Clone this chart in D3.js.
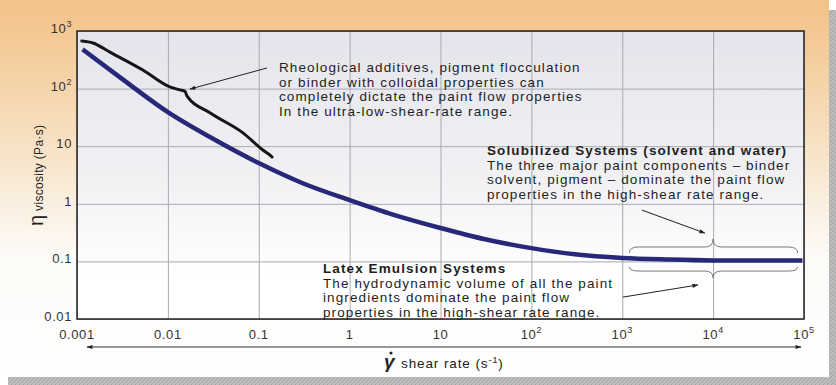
<!DOCTYPE html>
<html>
<head>
<meta charset="utf-8">
<script src="https://cdn.jsdelivr.net/npm/d3@7"></script>
<style>
  body { margin: 0; background: #fff; }
  svg { display: block; }
  text { font-family: "Liberation Sans", Arial, sans-serif; }
</style>
</head>
<body>
<div id="chart"></div>
<script>
// Axis ticks
const xTicks = [1e-3, 1e-2, 1e-1, 1, 10, 1e2, 1e3, 1e4, 1e5];
const xTickBase = ["0.001", "0.01", "0.1", "1", "10", "10", "10", "10", "10"];
const xTickExp = ["", "", "", "", "", "2", "3", "4", "5"];
const yTicks = [0.01, 0.1, 1, 10, 100, 1000];
const yTickBase = ["0.01", "0.1", "1", "10", "10", "10"];
const yTickExp = ["", "", "", "", "2", "3"];

// Main flow curve (blue)
const baseRate = [0.00115, 0.003, 0.01, 0.03, 0.1, 0.3, 1, 3, 10, 30, 100, 300, 1000, 3000, 1e4, 3e4, 9.6e4];
const baseVisc = [480, 155, 39, 14, 5.1, 2.3, 1.16, 0.65, 0.38, 0.245, 0.17, 0.133, 0.115, 0.108, 0.104, 0.104, 0.104];

// Rheological additive curve (black)
const addRate = [0.00113, 0.0015, 0.0023, 0.0053, 0.0105, 0.0136, 0.0154, 0.0162, 0.029, 0.067, 0.111, 0.133, 0.14];
const addVisc = [670, 620, 430, 210, 107, 95, 90, 75, 38, 17, 8.6, 7.0, 6.5];

// Annotation texts
const noteAdditives = [
  "Rheological additives, pigment flocculation",
  "or binder with colloidal properties can",
  "completely dictate the paint flow properties",
  "In the ultra-low-shear-rate range."
];
const noteSolubTitle = "Solubilized Systems (solvent and water)";
const noteSolub = [
  "The three major paint components \u2013 binder",
  "solvent, pigment \u2013 dominate the paint flow",
  "properties in the high-shear rate range."
];
const noteLatexTitle = "Latex Emulsion Systems";
const noteLatex = [
  "The hydrodynamic volume of all the paint",
  "ingredients dominate the paint flow",
  "properties in the high-shear rate range."
];

// Pointer arrows [rate0, visc0, rate1, visc1]
const arrowAdditives = [0.123, 228, 0.0175, 98];
const arrowSolub = [1640, 0.78, 8100, 0.31];
const arrowLatex = [1015, 0.024, 6800, 0.039];

// Braces: rate start, tip, end; visc of end, arm, tip
const braceRate = [1200, 1e4, 85000];
const braceUpper = [0.14, 0.178, 0.245];
const braceLower = [0.08, 0.068, 0.0515];

const width = 836, height = 385;
const m = { left: 77, right: 804, top: 31, bottom: 319 };

const svg = d3.select("#chart").append("svg")
  .attr("width", width)
  .attr("height", height);

const defs = svg.append("defs");

const cardGrad = defs.append("linearGradient")
  .attr("id", "cardGrad").attr("x1", 0).attr("y1", 0).attr("x2", 0).attr("y2", 1);
[[0, "#f2c38a"], [0.1, "#f4c994"], [0.4, "#f7e3c7"], [0.68, "#fdfbf8"], [1, "#ffffff"]]
  .forEach(s => cardGrad.append("stop").attr("offset", s[0]).attr("stop-color", s[1]));

const plotGrad = defs.append("linearGradient")
  .attr("id", "plotGrad").attr("x1", 0).attr("y1", 0).attr("x2", 0).attr("y2", 1);
[[0, "#e4e5ec"], [0.5, "#f1f1f4"], [0.85, "#ffffff"], [1, "#ffffff"]]
  .forEach(s => plotGrad.append("stop").attr("offset", s[0]).attr("stop-color", s[1]));

const hatch = defs.append("pattern")
  .attr("id", "hatch").attr("width", 4).attr("height", 4)
  .attr("patternUnits", "userSpaceOnUse");
hatch.append("rect").attr("width", 4).attr("height", 4).attr("fill", "#bdbdbd");
hatch.append("path").attr("d", "M0,4 L4,0").attr("stroke", "#a2a2a2").attr("stroke-width", 1);

defs.append("marker")
  .attr("id", "head").attr("viewBox", "0 0 10 10")
  .attr("refX", 9).attr("refY", 5)
  .attr("markerWidth", 7).attr("markerHeight", 6)
  .attr("orient", "auto-start-reverse")
  .append("path").attr("d", "M0,1.5 L10,5 L0,8.5 Z").attr("fill", "#222");

// shadow + card
svg.append("rect").attr("x", 8).attr("y", 10).attr("width", width - 8).attr("height", height - 10)
  .attr("fill", "url(#hatch)");
svg.append("rect").attr("x", 0).attr("y", 0).attr("width", 829).attr("height", 377)
  .attr("fill", "url(#cardGrad)");

const x = d3.scaleLog().domain([1e-3, 1e5]).range([m.left, m.right]);
const y = d3.scaleLog().domain([0.01, 1000]).range([m.bottom, m.top]);

svg.append("rect")
  .attr("x", m.left).attr("y", m.top)
  .attr("width", m.right - m.left).attr("height", m.bottom - m.top)
  .attr("fill", "url(#plotGrad)");

// gridlines
svg.append("g")
  .attr("transform", `translate(0,${m.bottom})`)
  .call(d3.axisBottom(x).tickValues(xTicks).tickSize(-(m.bottom - m.top)).tickFormat(""))
  .call(g => g.select(".domain").remove())
  .call(g => g.selectAll("line").attr("stroke", "#a9a9ae").attr("stroke-width", 1));

svg.append("g")
  .attr("transform", `translate(${m.left},0)`)
  .call(d3.axisLeft(y).tickValues(yTicks).tickSize(-(m.right - m.left)).tickFormat(""))
  .call(g => g.select(".domain").remove())
  .call(g => g.selectAll("line").attr("stroke", "#a9a9ae").attr("stroke-width", 1));

// tick labels
const xLab = svg.append("g").selectAll("text")
  .data(xTicks).join("text")
  .attr("x", d => x(d))
  .attr("y", 339)
  .attr("text-anchor", "middle")
  .attr("font-size", 13)
  .attr("fill", "#333")
  .attr("letter-spacing", 0.6);
xLab.append("tspan").text((d, i) => xTickBase[i]);
xLab.append("tspan").attr("dy", -6).attr("font-size", 9).text((d, i) => xTickExp[i]);

const yLab = svg.append("g").selectAll("text")
  .data(yTicks).join("text")
  .attr("x", 72)
  .attr("y", d => y(d) + 2)
  .attr("text-anchor", "end")
  .attr("font-size", 13)
  .attr("fill", "#333")
  .attr("letter-spacing", 0.6);
yLab.append("tspan").text((d, i) => yTickBase[i]);
yLab.append("tspan").attr("dy", -6).attr("font-size", 9).text((d, i) => yTickExp[i]);

// curves
const line = d3.line().x(d => x(d[0])).y(d => y(d[1])).curve(d3.curveMonotoneX);

svg.append("path")
  .datum(addRate.map((r, i) => [r, addVisc[i]]))
  .attr("d", line)
  .attr("fill", "none")
  .attr("stroke", "#161616")
  .attr("stroke-width", 3)
  .attr("stroke-linecap", "round");

svg.append("path")
  .datum(baseRate.map((r, i) => [r, baseVisc[i]]))
  .attr("d", line)
  .attr("fill", "none")
  .attr("stroke", "#28287a")
  .attr("stroke-width", 4.5);

// plot frame
svg.append("rect")
  .attr("x", m.left).attr("y", m.top)
  .attr("width", m.right - m.left).attr("height", m.bottom - m.top)
  .attr("fill", "none").attr("stroke", "#222").attr("stroke-width", 1.5);

// braces
function brace(yv) {
  const x0 = x(braceRate[0]), xm = x(braceRate[1]), x1 = x(braceRate[2]);
  const ye = y(yv[0]), ya = y(yv[1]), yt = y(yv[2]);
  const p = d3.path();
  p.moveTo(x0, ye);
  p.quadraticCurveTo(x0, ya, x0 + 9, ya);
  p.lineTo(xm - 8, ya);
  p.quadraticCurveTo(xm, ya, xm, yt);
  p.quadraticCurveTo(xm, ya, xm + 8, ya);
  p.lineTo(x1 - 9, ya);
  p.quadraticCurveTo(x1, ya, x1, ye);
  return p.toString();
}
[braceUpper, braceLower].forEach(b => {
  svg.append("path").attr("d", brace(b))
    .attr("fill", "none").attr("stroke", "#777").attr("stroke-width", 1);
});

// pointer arrows
[arrowAdditives, arrowSolub, arrowLatex].forEach(a => {
  svg.append("line")
    .attr("x1", x(a[0])).attr("y1", y(a[1]))
    .attr("x2", x(a[2])).attr("y2", y(a[3]))
    .attr("stroke", "#222").attr("stroke-width", 1)
    .attr("marker-end", "url(#head)");
});

// annotations
function note(lines, x0, y0, bold) {
  const g = svg.append("g");
  g.selectAll("text").data(lines).join("text")
    .attr("x", x0)
    .attr("y", (d, i) => y0 + i * 14.7)
    .attr("font-size", 13.5)
    .attr("letter-spacing", 1.1)
    .attr("fill", "#1e1e1e")
    .attr("font-weight", (d, i) => bold && i === 0 ? "bold" : "normal")
    .text(d => d);
}
note(noteAdditives, 279, 72, false);
note([noteSolubTitle].concat(noteSolub), 487, 155, true);
note([noteLatexTitle].concat(noteLatex), 323, 273, true);

// shear rate double arrow
svg.append("line")
  .attr("x1", x(1e-3) + 10).attr("x2", x(1e5) - 3)
  .attr("y1", 347).attr("y2", 347)
  .attr("stroke", "#333").attr("stroke-width", 1)
  .attr("marker-start", "url(#head)")
  .attr("marker-end", "url(#head)");

// x title: gamma with an over-dot
svg.append("text").attr("x", 384).attr("y", 368).attr("fill", "#222")
  .attr("font-family", "Liberation Serif, serif").attr("font-style", "italic")
  .attr("font-weight", "bold").attr("font-size", 19).text("\u03b3");
svg.append("circle").attr("cx", 391).attr("cy", 353).attr("r", 1.6).attr("fill", "#222");
const xt = svg.append("text").attr("x", 401).attr("y", 368).attr("fill", "#222")
  .attr("font-size", 13.5).attr("letter-spacing", 0.9);
xt.append("tspan").text("shear rate (s");
xt.append("tspan").attr("dy", -5).attr("font-size", 9).text("-1");
xt.append("tspan").attr("dy", 5).text(")");

// y title
const yt = svg.append("text")
  .attr("transform", "translate(43,226) rotate(-90)")
  .attr("fill", "#222");
yt.append("tspan").attr("font-size", 20).text("\u03b7");
yt.append("tspan").attr("dx", 4).attr("font-size", 12).attr("letter-spacing", 0.3).text("viscosity (Pa\u00b7s)");
</script>
</body>
</html>
